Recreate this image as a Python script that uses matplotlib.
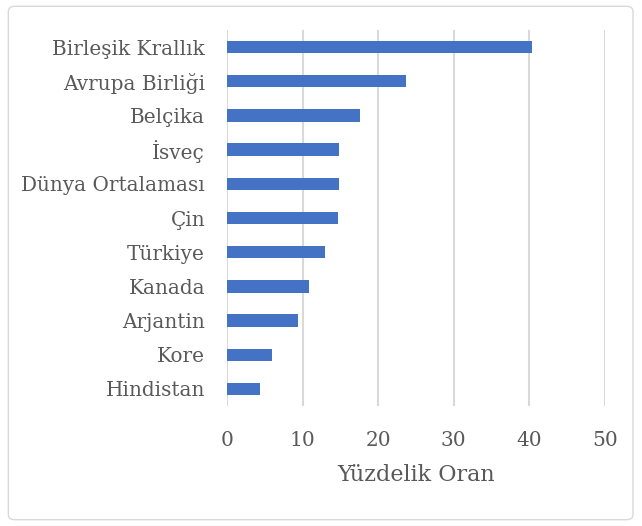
import matplotlib.pyplot as plt
from matplotlib.patches import FancyBboxPatch

ulkeler = ["Birleşik Krallık", "Avrupa Birliği", "Belçika", "İsveç", "Dünya Ortalaması",
           "Çin", "Türkiye", "Kanada", "Arjantin", "Kore", "Hindistan"]
oranlar = [40.3, 23.7, 17.6, 14.8, 14.8, 14.7, 12.9, 10.8, 9.4, 5.9, 4.4]
xticks = [0, 10, 20, 30, 40, 50]

grey = "#595959"
plt.rcParams['font.family'] = ['DejaVu Serif']

fig = plt.figure(figsize=(6.42, 5.26), dpi=100)
fig.patches.append(FancyBboxPatch((0.013, 0.012), 0.973, 0.976, boxstyle="round,pad=0,rounding_size=0.01",
                                  transform=fig.transFigure, fill=False, edgecolor="#d9d9d9", linewidth=1))
ax = fig.add_axes([0.354, 0.228, 0.588, 0.715])

ypos = list(range(len(ulkeler)))
ax.barh(ypos, oranlar, height=0.36, color="#4472c4", zorder=3)
ax.set_ylim(len(ulkeler) - 0.5, -0.5)
ax.set_yticks(ypos)
ax.set_yticklabels(ulkeler, fontsize=14.4, color=grey)
ax.set_xlim(0, 50)
ax.set_xticks(xticks)
ax.set_xticklabels([str(t) for t in xticks], fontsize=14.5, color=grey)
ax.tick_params(axis='y', length=0, pad=16)
ax.tick_params(axis='x', length=0, pad=18)
ax.grid(axis='x', color="#d9d9d9", linewidth=1.5, zorder=0)
for s in ax.spines.values():
    s.set_visible(False)
ax.set_xlabel("Yüzdelik Oran", fontsize=16, color=grey, labelpad=10)

fig.savefig("out.png", dpi=100)
